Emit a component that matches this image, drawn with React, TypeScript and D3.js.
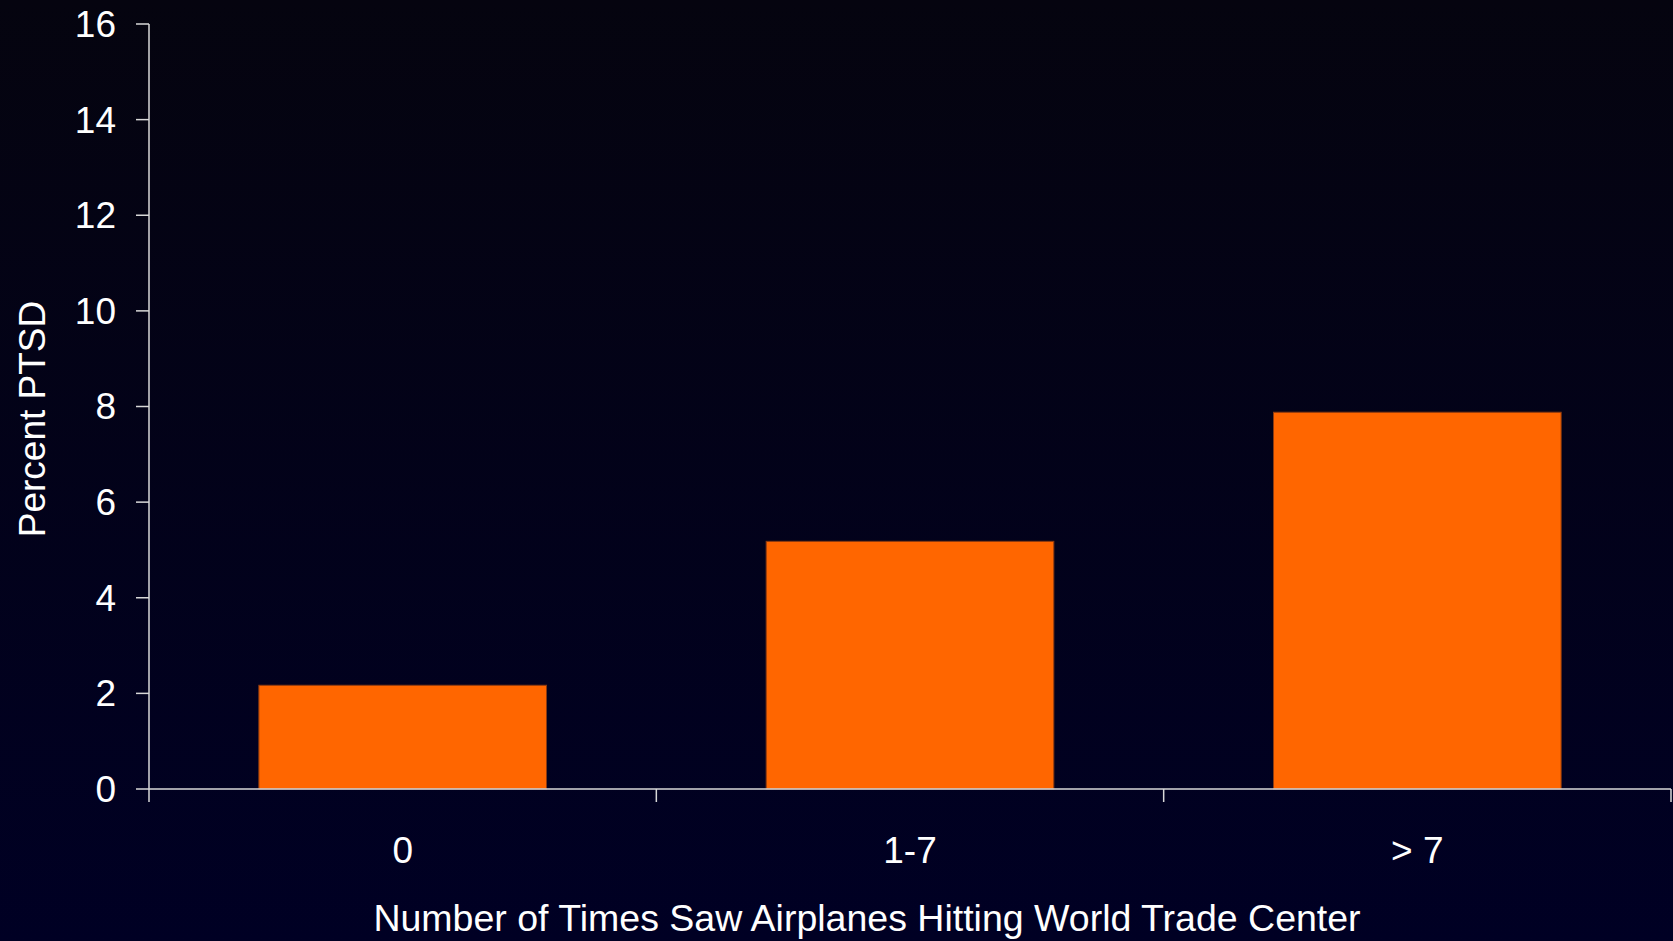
import React from "react";
import * as d3 from "d3";

const categories = ["0", "1-7", "> 7"];
const values = [2.17, 5.18, 7.88];
const yTicks = [0, 2, 4, 6, 8, 10, 12, 14, 16];
const xTitle = "Number of Times Saw Airplanes Hitting World Trade Center";
const yTitle = "Percent PTSD";

const W = 1673;
const H = 941;
const left = 149;
const right = 1671;
const top = 24;
const bottom = 789;
const FONT = "'Liberation Sans', Arial, sans-serif";

export default function App() {
  const x = d3
    .scaleBand<string>()
    .domain(categories)
    .range([left, right])
    .paddingInner(0.433)
    .paddingOuter(0.2165);
  const step = (right - left) / categories.length;
  const y = d3.scaleLinear().domain([0, 16]).range([bottom, top]);
  const boundaries = d3.range(categories.length + 1).map((i) => left + i * step);

  return (
    <div style={{ position: "fixed", left: 0, top: 0, width: W, height: H }}>
      <svg width={W} height={H} style={{ display: "block" }}>
        <defs>
          <linearGradient id="bg" x1="0" y1="0" x2="0" y2="1">
            <stop offset="0" stopColor="#05040f" />
            <stop offset="1" stopColor="#000024" />
          </linearGradient>
        </defs>
        <rect width={W} height={H} fill="url(#bg)" />
        {categories.map((c, i) => (
          <rect
            key={c}
            x={x(c)!}
            y={y(values[i])}
            width={x.bandwidth()}
            height={bottom - y(values[i])}
            fill="#FF6600"
            stroke="#8a3a10"
            strokeWidth={1}
          />
        ))}
        {/* y axis */}
        <line x1={left} x2={left} y1={top} y2={bottom} stroke="#d8d8d8" strokeWidth={1.5} />
        {yTicks.map((t) => (
          <g key={t}>
            <line x1={left - 13} x2={left} y1={y(t)} y2={y(t)} stroke="#d8d8d8" strokeWidth={1.5} />
            <text
              x={116}
              y={y(t)}
              dy="0.35em"
              textAnchor="end"
              fill="#ffffff"
              fontFamily={FONT}
              fontSize={37}
            >
              {t}
            </text>
          </g>
        ))}
        {/* x axis */}
        <line x1={left} x2={right} y1={bottom} y2={bottom} stroke="#d8d8d8" strokeWidth={1.5} />
        {boundaries.map((b, i) => (
          <line key={i} x1={b} x2={b} y1={bottom} y2={bottom + 13} stroke="#d8d8d8" strokeWidth={1.5} />
        ))}
        {categories.map((c) => (
          <text
            key={c}
            x={x(c)! + x.bandwidth() / 2}
            y={850}
            dy="0.35em"
            textAnchor="middle"
            fill="#ffffff"
            fontFamily={FONT}
            fontSize={37}
          >
            {c}
          </text>
        ))}
        <text
          x={867}
          y={918}
          dy="0.35em"
          textAnchor="middle"
          fill="#ffffff"
          fontFamily={FONT}
          fontSize={37.5}
        >
          {xTitle}
        </text>
        <text
          transform={`translate(32, 419) rotate(-90)`}
          dy="0.35em"
          textAnchor="middle"
          fill="#ffffff"
          fontFamily={FONT}
          fontSize={37}
        >
          {yTitle}
        </text>
      </svg>
    </div>
  );
}
